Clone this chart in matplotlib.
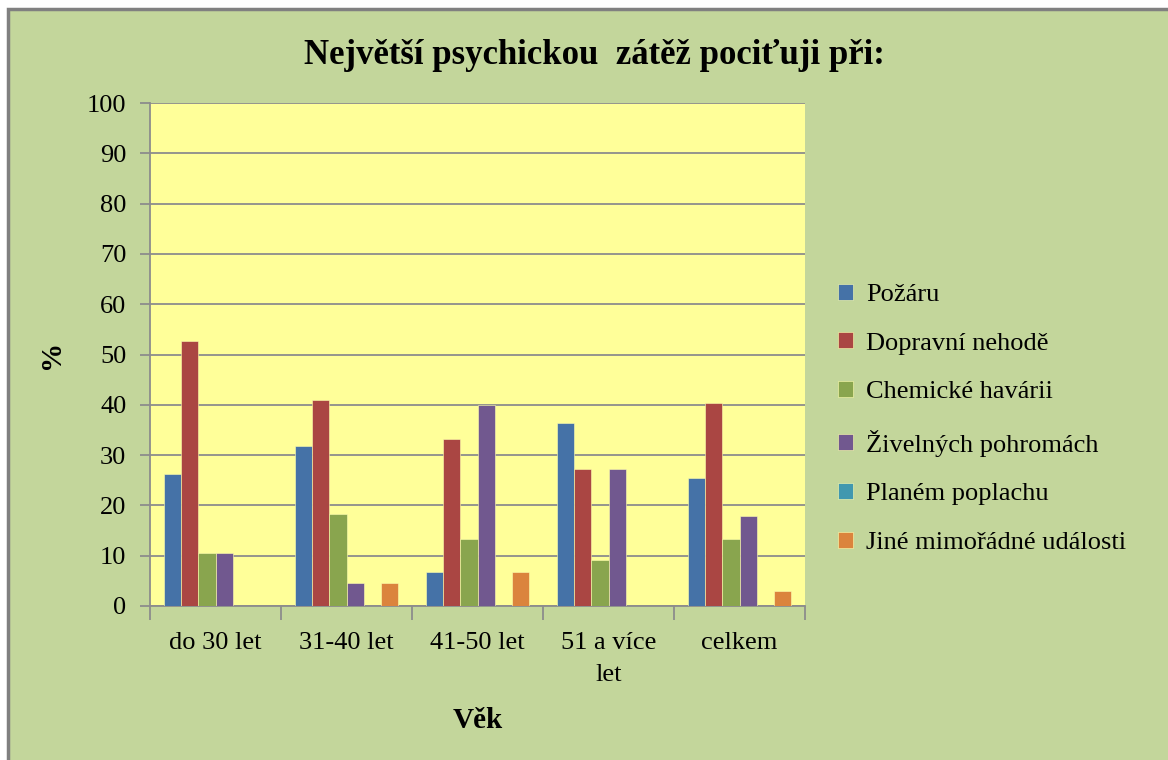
import matplotlib.pyplot as plt
import numpy as np
from matplotlib.patches import Rectangle

plt.rcParams["font.family"] = ["Liberation Serif", "DejaVu Serif"]

# data (percent of respondents per age group)
groups = ["do 30 let", "31-40 let", "41-50 let", "51 a více\nlet", "celkem"]
series = ["Požáru", "Dopravní nehodě", "Chemické havárii",
          "Živelných pohromách", "Planém poplachu", "Jiné mimořádné události"]
pozaru = [26.3, 31.8, 6.7, 36.4, 25.4]
doprava = [52.6, 40.9, 33.3, 27.3, 40.3]
chemie = [10.5, 18.2, 13.3, 9.1, 13.4]
zivel = [10.5, 4.5, 40.0, 27.3, 17.9]
poplach = [0, 0, 0, 0, 0]
jine = [0, 4.5, 6.7, 0, 3.0]
values = [pozaru, doprava, chemie, zivel, poplach, jine]
colors = ["#4572A7", "#AA4643", "#89A54E", "#71588F", "#4198AF", "#DB843D"]

fig = plt.figure(figsize=(11.68, 7.6), dpi=100, facecolor="white")
# chart area with grey frame (only top/left edges fall inside the image)
fig.patches.append(Rectangle((8 / 1168, -0.1), 1.1, 0.1 + (760 - 9) / 760,
                             transform=fig.transFigure, facecolor="#C3D69B",
                             edgecolor="#808080", linewidth=2.5, zorder=-10))

ax = fig.add_axes([150 / 1168, 1 - 606 / 760, 655 / 1168, 503 / 760])
ax.set_facecolor("#FFFF99")

x = np.arange(len(groups))
w = 0.13
for i, (name, vals, c) in enumerate(zip(series, values, colors)):
    ax.bar(x + (i - 2.5) * w, vals, w, color=c, label=name, zorder=3,
           edgecolor="#FFFFB0", linewidth=0.4)

ax.set_xlim(-0.5, len(groups) - 0.5)
ax.set_ylim(0, 100)
ax.set_yticks(np.arange(0, 101, 10))
ax.yaxis.grid(True, color="#8C8C8C", linewidth=1.3, zorder=1)
ax.tick_params(axis="y", direction="out", length=7, width=1.3, color="#8C8C8C",
               labelsize=19, pad=10)

ax.set_xticks(np.arange(-0.5, len(groups)), labels=[""] * (len(groups) + 1))
ax.set_xticks(x, labels=groups, minor=True)
ax.tick_params(axis="x", which="major", direction="out", length=10, width=1.3,
               color="#8C8C8C")
ax.tick_params(axis="x", which="minor", length=0, labelsize=19, pad=19)
for lab in ax.get_xticklabels(minor=True):
    lab.set_verticalalignment("top")
    lab.set_linespacing(1.55)

for side in ["top", "right"]:
    ax.spines[side].set_visible(False)
for side in ["left", "bottom"]:
    ax.spines[side].set_color("#8C8C8C")
    ax.spines[side].set_linewidth(1.3)

ax.set_xlabel("Věk", fontsize=21, fontweight="bold", labelpad=15)
ax.set_ylabel("%", fontsize=21, fontweight="bold", labelpad=16)

fig.text(594 / 1168, 1 - 55 / 760, "Největší psychickou  zátěž pociťuji při:",
         ha="center", va="center", fontsize=25, fontweight="bold")

ax.legend(loc="center left", bbox_to_anchor=(1.035, 0.372), frameon=False,
          fontsize=19, handlelength=0.55, handleheight=0.55, handletextpad=0.5,
          labelspacing=1.0, borderaxespad=0)

fig.savefig("out.png", dpi=100, facecolor="white")
